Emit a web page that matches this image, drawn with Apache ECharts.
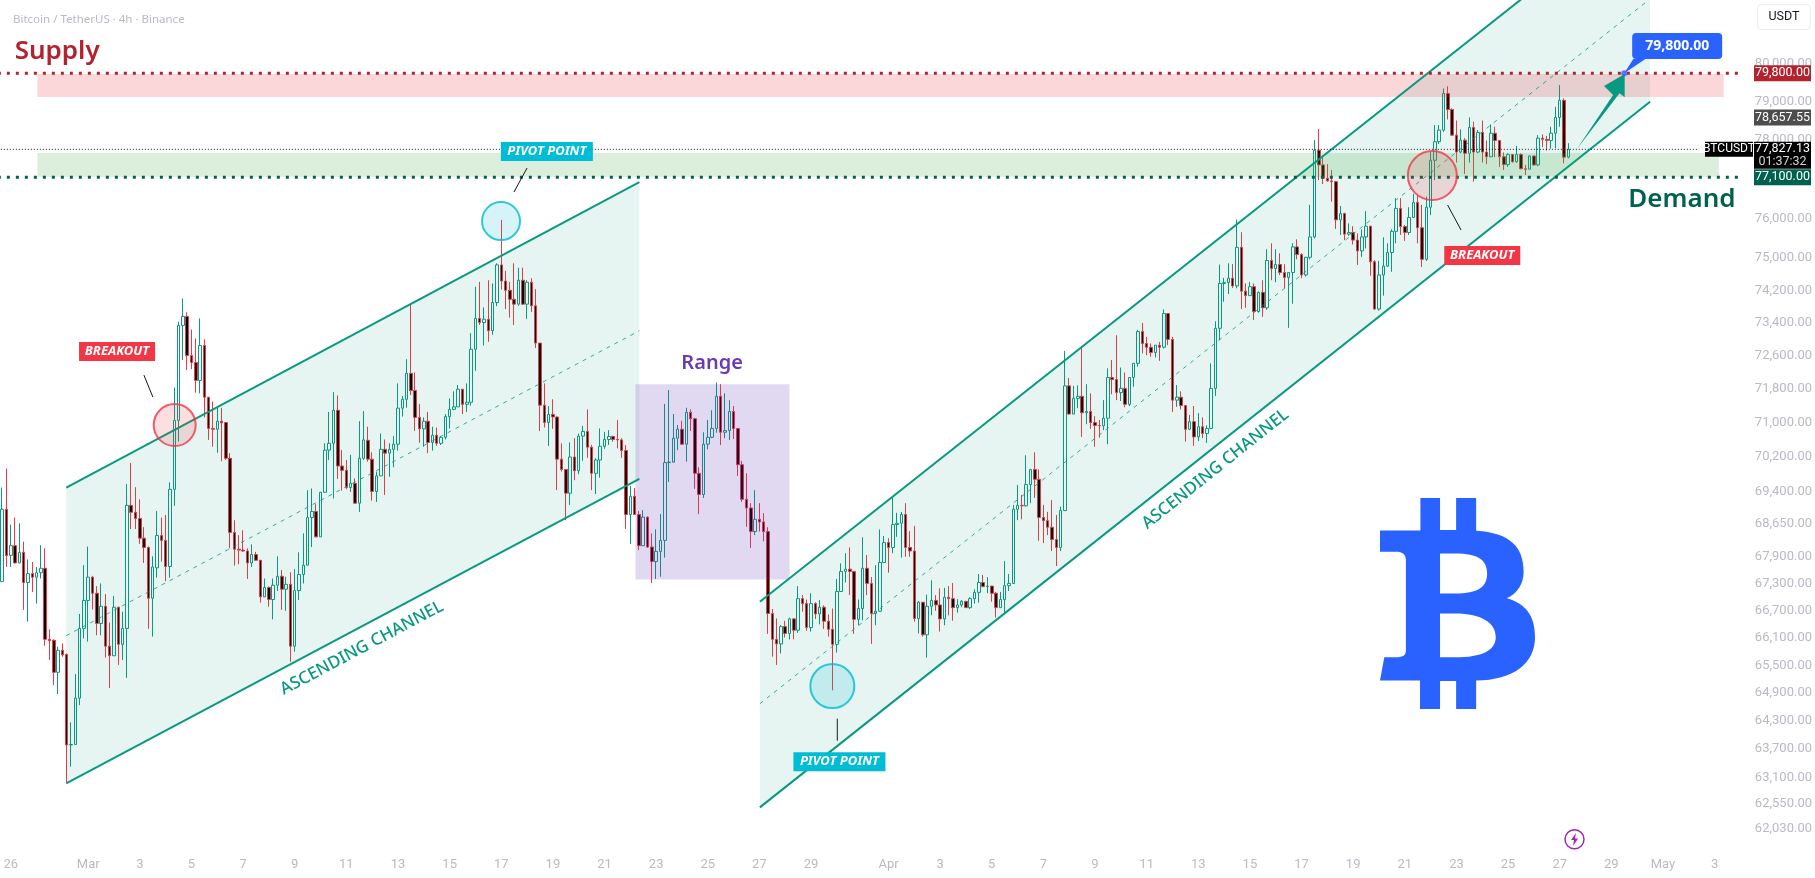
<!DOCTYPE html>
<html><head><meta charset="utf-8">
<style>html,body{margin:0;padding:0;background:#fff}#c{width:1815px;height:878px}</style>
<script src="https://cdn.jsdelivr.net/npm/echarts@6/dist/echarts.min.js"></script>
</head><body><div id="c"></div>
<script>
// candle index 0 = 1 March 00:00, one candle = 4h; first row is index -20
const firstCandle = -20;
const ohlc = [ // open, close, low, high
[67350,68990,67350,69490],[68990,67940,67680,69930],[67940,68160,67680,68640],[68160,67770,67760,68800],[67770,68010,67760,68670],
[68010,67330,66720,68250],[67330,67530,66460,67850],[67530,67450,67120,67790],[67450,67550,66860,67680],[67550,67650,67420,68170],
[67650,66070,65930,68100],[66070,66040,65620,66290],[66050,65350,65070,66070],[65350,65830,64880,65910],[65830,65730,65690,65980],
[65740,63790,62990,65760],[63790,63800,63330,64270],[63800,64790,63800,65310],[64790,66310,64640,66630],[66310,66930,66090,67720],
[66930,67450,66020,68140],[67450,67090,66730,67480],[67090,66420,66160,67250],[66420,66800,66160,67310],[66800,65920,65670,67070],
[65920,65710,65010,66440],[65710,66780,65710,67030],[66780,65960,65510,66790],[65960,66310,65620,66680],[66310,69080,65230,69570],
[69080,68920,68540,70060],[68920,68780,68540,69500],[68780,68330,68200,69220],[68330,68120,67770,68580],[68120,66980,66300,68140],
[66980,67680,66130,67920],[67660,68390,67440,68950],[68390,68280,67800,68800],[68280,67690,67360,68860],[67690,69450,67440,69610],
[69450,71060,69070,71840],[71060,73340,70560,73430],[73340,73560,72500,74000],[73560,72610,72260,73660],[72610,72440,72280,73240],
[72440,72010,71720,73020],[72010,72850,71700,73510],[72850,71610,71130,73000],[71610,70870,70600,71610],[70870,70850,70440,71510],
[70850,71040,70300,71370],[71040,71000,70100,71360],[71010,70170,70130,71020],[70170,68460,68100,70290],[68460,68080,67710,68740],
[68080,68060,67740,68400],[68060,68040,68020,68510],[68040,67770,67410,68100],[67770,67960,67680,68190],[67960,67830,67820,68020],
[67830,67010,66880,67830],[67010,67220,67010,67420],[67220,66950,66790,67240],[66950,67270,66510,67420],[67270,67470,67140,67920],
[67470,67180,66720,67610],[67180,67290,66700,67460],[67290,65920,65580,67560],[65920,67150,65800,67630],[67150,67510,66940,68010],
[67510,67720,67310,68440],[67720,68800,67720,69430],[68800,68940,68130,69470],[68940,68360,68350,69110],[68360,69380,68360,69390],
[69380,70360,69380,70520],[70360,70520,70130,71260],[70520,71300,69240,71730],[71300,69990,69690,71650],[69990,69890,69420,70360],
[69890,69490,69450,70130],[69490,69590,69390,70250],[69590,69130,69130,69700],[69130,70170,68930,71040],[70170,70600,70130,71280],
[70590,70150,70090,70910],[70150,69400,69190,70310],[69400,69760,69160,69860],[69760,70380,69760,70750],[70380,70290,69320,70610],
[70290,70380,69740,70520],[70380,70500,69960,70690],[70500,71350,70350,71940],[71350,71560,71150,71640],[71560,72180,71360,72520],
[72180,71770,71660,73840],[71770,71130,70810,72200],[71130,70860,70530,71450],[70860,71040,70440,71130],[71040,70540,70290,71260],
[70540,70710,70350,70910],[70710,70520,70460,70890],[70520,70660,70480,70690],[70660,71150,70610,71210],[71150,71320,70870,71580],
[71320,71380,71300,71750],[71380,71800,71380,71900],[71800,71440,71210,71800],[71440,71490,71260,71940],[71490,72760,71410,73150],
[72760,73510,72240,74290],[73510,73410,73350,74410],[73410,73490,72850,73780],[73490,73210,72940,74450],[73210,73900,73110,74370],
[73900,74830,73810,74870],[74830,74430,74220,75960],[74430,74200,73740,74680],[74200,73980,73530,74410],[73980,73860,73350,74870],
[73860,74450,73820,74760],[74450,73860,73840,74760],[73860,74400,73500,74450],[74400,73820,73670,74500],[73820,72910,72790,74230],
[72910,71420,70810,72910],[71420,71010,70890,71940],[71010,71200,70460,71400],[71200,71140,70860,71560],[71140,70150,69430,71150],
[70150,69910,69860,70520],[69910,69360,68740,69910],[69360,70200,69090,70540],[70200,69880,69660,70640],[69880,70690,69800,70750],
[70690,70800,70110,70930],[70800,70430,70180,71320],[70430,69820,69430,70480],[69820,70130,69340,70170],[70130,70450,69720,70870],
[70450,70610,70390,70790],[70610,70680,70480,70830],[70680,70610,70560,70700],[70610,70600,70400,71070],[70600,70350,70180,70640],
[70350,68870,68540,70480],[68870,69290,68200,69530],[69290,68870,68870,69480],[68870,68160,68060,68950],[68160,68810,68160,68970],
[68810,68130,68110,68830],[68130,67800,67320,68440],[67800,68030,67410,68530],[68030,68280,67460,68880],[68280,70070,67890,71450],
[70070,70080,69620,71780],[70080,70640,70070,71210],[70640,70850,70360,70950],[70850,70500,70480,71050],[70500,71250,70090,71360],
[71250,71100,70810,71320],[71100,69820,69460,71120],[69820,69330,68880,69960],[69330,70500,69250,70780],[70500,70660,70380,71070],
[70660,70870,70640,71300],[70870,71630,70770,71960],[71630,70780,70480,71920],[70780,70820,70640,71700],[70820,71270,70600,71540],
[71270,70870,70620,71400],[70870,70020,69760,70870],[70020,69220,69160,70110],[69220,69020,68590,69820],[69020,68480,68110,69130],
[68480,68760,68400,69430],[68760,68700,68480,69130],[68700,68480,68260,68900],[68480,66640,66190,68580],[66640,66070,65690,66740],
[66070,65970,65510,66530],[65970,66350,65760,66380],[66350,66200,66110,66480],[66200,66520,66070,66550],[66520,66270,66070,66540],
[66270,66970,66210,67250],[66970,66860,66680,67050],[66860,66330,66260,66950],[66330,66860,66240,67090],[66860,66630,66520,66890],
[66630,66780,66400,66940],[66780,66470,66300,66820],[66470,66290,66130,66620],[66290,65960,64960,66750],[65960,67130,65780,67410],
[67130,67580,67120,67760],[67580,67630,67330,67990],[67630,67580,67050,68120],[67580,66510,66190,67590],[66510,66750,66380,66950],
[66750,67650,66490,68350],[67650,67310,67050,67950],[67310,66640,65970,67450],[66640,66690,66380,67720],[66690,67780,66680,68530],
[67780,68230,67780,68380],[68230,68120,67550,68330],[68120,68640,67990,69290],[68640,68670,68360,68910],[68670,68870,67890,68930],
[68870,68120,67910,69130],[68120,68040,67910,68490],[68040,66530,66460,68610],[66530,66890,66200,66920],[66890,66170,66130,66890],
[66170,66800,65670,67060],[66800,66930,66600,67380],[66930,66830,66700,67050],[66830,66520,66240,67200],[66520,67000,66380,67210],
[67000,66970,66600,67250],[66970,66770,66480,67320],[66770,66830,66660,66960],[66830,66910,66780,66940],[66910,66770,66770,66910],
[66770,66970,66740,67000],[66970,67110,66860,67180],[67110,67330,66880,67520],[67330,67240,67220,67500],[67240,67250,67090,67450],
[67250,67090,66900,67260],[67090,66770,66550,67120],[66770,66950,66770,67120],[66950,67260,66660,67810],[67260,67310,67140,67520],
[67310,68990,67300,69090],[68990,69080,68740,69550],[69080,69070,68760,69320],[69070,69560,69050,70240],[69560,69910,69130,69910],
[69910,69680,69250,70310],[69680,68800,68270,69910],[68800,68730,68220,69090],[68730,68580,68400,68930],[68580,68300,68040,69200],
[68300,68120,67700,68860],[68120,68960,68040,69050],[68960,71880,68950,72720],[71880,71210,71190,72070],[71210,71580,71210,71880],
[71580,71630,71350,71890],[71630,71240,70670,72820],[71240,71270,70970,71920],[71270,71010,70860,71700],[71010,70940,70440,71160],
[70940,70930,70650,71070],[70930,71110,70830,71540],[71110,72080,70500,72300],[72080,72030,71680,72500],[72030,71720,71540,73100],
[71720,71820,71520,72320],[71820,71440,71370,72200],[71440,72080,71400,72080],[72080,72420,71860,72430],[72420,73190,72340,73230],
[73190,72900,72660,73400],[72900,72810,72620,73060],[72810,72680,72580,72900],[72680,72860,72560,72860],[72860,72810,72480,72940],
[72810,73630,72780,73730],[73630,73000,72860,73630],[73000,71540,71260,73060],[71540,71610,71380,71900],[71610,71410,71320,71750],
[71410,70850,70560,71410],[70850,71030,70830,71190],[71030,70670,70460,71400],[70670,70910,70570,71230],[70910,70750,70640,71130],
[70750,70870,70530,70940],[70870,71820,70850,72420],[71820,73270,71640,73440],[73270,74370,72980,74840],[74370,74390,73920,74510],
[74390,74500,74110,74870],[74500,74310,74260,74850],[74310,75270,74250,75970],[75270,74180,73740,75650],[74180,74070,73770,74370],
[74070,74290,74070,74410],[74290,73680,73470,74370],[73680,74150,73650,74170],[74150,73770,73550,74450],[73770,74940,73720,75220],
[74940,74740,74450,75370],[74740,74840,74400,75220],[74840,74640,74580,75120],[74640,74520,74250,74850],[74520,74640,73280,74640],
[74640,75280,73870,75370],[75280,75090,74970,75470],[75090,74580,74500,75120],[74580,75020,74540,75030],[75020,75530,74970,76340],
[75530,77740,75490,78000],[77740,77360,76970,78290],[77360,77020,76870,77560],[77020,76950,76930,77380],[76950,76930,76420,77230],
[76930,75960,75730,76950],[75960,76120,75580,76310],[76120,75600,75450,76140],[75600,75640,75560,75870],[75640,75450,75340,75800],
[75450,75180,74830,75620],[75180,75530,75030,75720],[75530,75800,75240,76180],[75800,74910,74560,75800],[74910,73740,73720,74950],
[73740,74580,73700,74930],[74580,74800,74070,75520],[74800,75140,74780,75370],[75140,75670,74660,75720],[75670,76250,75370,76510],
[76250,75790,75580,76510],[75790,75640,75430,75830],[75640,76020,75580,76280],[76020,76400,76010,76620],[76400,75760,75370,76590],
[75760,74970,74780,76340],[74970,76280,74930,76550],[76280,77480,76080,77700],[77480,77960,76970,78390],[77960,78260,77900,78390],
[78260,79220,78220,79350],[79220,78800,78540,79410],[78800,78130,78110,78830],[78130,77690,77420,78510],[77690,78000,77660,78280],
[78000,77660,77130,78050],[77660,78330,77420,78590],[78330,77690,76930,78480],[77690,78200,77660,78260],[78200,77690,77420,78510],
[77690,77570,77380,77990],[77570,78180,77560,78410],[78180,77990,77560,78350],[77990,77570,77310,78000],[77570,77370,77230,77680],
[77370,77630,77310,77660],[77630,77440,77420,77640],[77440,77630,77420,77850],[77630,77260,77250,77660],[77260,77250,77100,77360],
[77250,77590,77250,77600],[77590,77360,77340,77600],[77360,78050,77330,78130],[78050,78020,77820,78150],[78020,77990,77730,78110],
[77990,78180,77780,78350],[78180,78590,77790,78870],[78590,79040,78350,79440],[79040,77560,77400,79090],[77560,77760,77530,77920]
];
const lastAxisCandle = 385;
const xTickLabels = [[-18,'26'],[0,'Mar'],[12,'3'],[24,'5'],[36,'7'],[48,'9'],[60,'11'],[72,'13'],[84,'15'],[96,'17'],[108,'19'],[120,'21'],[132,'23'],[144,'25'],[156,'27'],[168,'29'],[186,'Apr'],[198,'3'],[210,'5'],[222,'7'],[234,'9'],[246,'11'],[258,'13'],[270,'15'],[282,'17'],[294,'19'],[306,'21'],[318,'23'],[330,'25'],[342,'27'],[354,'29'],[366,'May'],[378,'3']];
const yTicks = [80000,79000,78000,76000,75000,74200,73400,72600,71800,71000,70200,69400,68650,67900,67300,66700,66100,65500,64900,64300,63700,63100,62550,62030];
const priceMin = 61641, priceMax = 81721;

// drawn objects, as [candle index, price]
const channel1 = [[-5.1,62980],[-5.1,69490],[128.1,76920],[128.1,69690]];
const channel1Mid = [[-5.1,66150],[128.1,73210]];
const channel2 = [[156.1,62480],[156.1,66900],[363,84560],[363,79000]];
const channel2Mid = [[156.1,64670],[363,81750]];
const supplyZone = [-11.8,380.1,79735,79127];
const demandZone = [-11.8,379,77667,77057];
const rangeZone = [127.2,163,71920,67400];
const targetArrow = [[346,77770],[354.4,79181],[352.3,79417],[357.1,79735],[357.1,79119],[355.9,79225]];
const targetTail = [[357,79753],[359.1,80133],[361.9,80133]];
const supplyLine = [[-21,79753],[384.5,79753]];
const demandLine = [[-21,77042],[384.5,77042]];
const priceLine = [[-21,77762],[374.3,77762]];
const pointerLines = [[[12.95,72138],[15.03,71613]],[[102,77280],[98.96,76666]],[[174.1,64349],[174.1,63881]],[[315.95,76335],[319.07,75703]]];
const breakoutCircles = [[20.1,70950,42],[312.4,77088,49]];
const pivotCircles = [[95.95,75930,38],[172.95,65050,44]];
const targetDot = [[357,79753]];
const badges = [['BREAKOUT',6.7,72705,'breakout'],['PIVOT POINT',106.6,77705,'pivot'],['PIVOT POINT',174.6,63437,'pivot'],['BREAKOUT',324,75063,'breakout'],['79,800.00',369.3,80481,'target']];
const notes = [['Supply',-17.1,80320,'supply',0],['Demand',370.4,76462,'demand',0],['Range',145,72427,'range',0],['ASCENDING CHANNEL',63.6,65878,'channel',28],['ASCENDING CHANNEL',262,69918,'channel',38.5]];
const priceTags = [['79,800.00',79753,'#b2232f'],['78,657.55',78590,'#4d4d4d'],['77,100.00',77042,'#00614f']];
const lastPriceTag = ['77,827.13','01:37:32',77762,'BTCUSDT'];

const FONT = '"Noto Sans","Open Sans",sans-serif';
const AXFONT = '"Liberation Sans Narrow","Roboto",sans-serif';
const GREEN = '#089981', RED = '#f23645';
const badgeStyle = {
  breakout:{w:76,h:19,bg:RED,font:'italic bold 13px '+FONT,r:0},
  pivot:{w:92,h:19,bg:'#00bcd4',font:'italic bold 13px '+FONT,r:0},
  target:{w:90,h:26,bg:'#2962ff',font:'bold 14px '+FONT,r:4}
};
const noteStyle = {
  supply:{font:'600 26px '+FONT,fill:'#b2232f',align:'left'},
  demand:{font:'600 26px '+FONT,fill:'#00614f',align:'center'},
  range:{font:'600 20px '+FONT,fill:'#673ab7',align:'center'},
  channel:{font:'500 17px '+FONT,fill:GREEN,align:'center'}
};

const rectPts = r => [[r[0],r[2]],[r[1],r[2]],[r[1],r[3]],[r[0],r[3]]];
const polys = [
  [channel1,'rgba(8,153,129,0.1)'],[channel2,'rgba(8,153,129,0.1)'],
  [rectPts(supplyZone),'rgba(242,54,69,0.2)'],[rectPts(demandZone),'rgba(76,175,80,0.2)'],[rectPts(rangeZone),'rgba(103,58,183,0.2)'],
  [targetArrow,GREEN],[targetTail,'#2962ff']
];
const lines = [
  [channel1.slice(1,3),GREEN,2,null],[[channel1[0],channel1[3]],GREEN,2,null],
  [channel2.slice(1,3),GREEN,2,null],[[channel2[0],channel2[3]],GREEN,2,null],
  [channel1Mid,'rgba(8,153,129,0.8)',1,[4,5]],[channel2Mid,'rgba(8,153,129,0.8)',1,[4,5]],
  [supplyLine,'#b2232f',3,[3,6]],[demandLine,'#00614f',3,[3,6]],[priceLine,'#131722',1,[1,2]],
  ...pointerLines.map(p=>[p,'#131722',1,null])
];
const indexData = a => a.map((_,i)=>[i,70000]);
const idx = i => i - firstCandle;
const tickMap = new Map(xTickLabels.map(t=>[idx(t[0]),t[1]]));
const cats = []; for (let i=firstCandle;i<=lastAxisCandle;i++) cats.push(String(i));

const bitcoinPath = 'M562 174L612 174L612 270L653 270L653 174L704 174L704 272C790 278 825 320 825 395C825 430 810 460 782 474C830 490 854 525 854 590C854 670 800 718 704 721L704 806L653 806L653 722L612 722L612 806L561 806L561 721L459 721L470 651L500 651C518 651 525 645 525 630L525 360C525 342 515 335 500 335L459 335L459 271L562 271Z'
 +'M612 340L612 460L650 460C710 460 732 440 732 400C732 360 710 340 650 340Z'
 +'M612 520L612 651L650 651C720 651 754 630 754 590C754 550 720 520 650 520Z';

const chart = echarts.init(document.getElementById('c'),null,{renderer:'canvas'});
chart.setOption({
  animation:false, backgroundColor:'#ffffff',
  title:{text:'Bitcoin / TetherUS · 4h · Binance',left:8,top:9,textStyle:{fontFamily:FONT,fontWeight:'normal',fontSize:11.5,color:'#b8bac4'}},
  grid:{left:-2.66,top:0,width:1755.95,height:848,containLabel:false},
  xAxis:[
   {type:'category',data:cats,boundaryGap:true,axisLine:{show:false},axisTick:{show:false},splitLine:{show:false},
    axisLabel:{interval:i=>tickMap.has(i),formatter:(v,i)=>tickMap.get(i)||'',color:'#b8bac4',fontFamily:AXFONT,fontSize:13,margin:10,hideOverlap:false}},
   {type:'value',min:firstCandle-0.5,max:lastAxisCandle+0.5,show:false}
  ],
  yAxis:[{type:'log',logBase:10,min:priceMin,max:priceMax,position:'right',axisLine:{show:false},axisTick:{show:false},splitLine:{show:false},
    axisLabel:{customValues:yTicks,color:'#b8bac4',fontFamily:AXFONT,fontSize:13,margin:8,
      formatter:v=>Number(v).toLocaleString('en-US',{minimumFractionDigits:2,maximumFractionDigits:2})}}],
  series:[
   {type:'candlestick',xAxisIndex:0,yAxisIndex:0,data:ohlc,barWidth:3,z:1,
    itemStyle:{color:'#ffffff',color0:'#000000',borderColor:GREEN,borderColor0:RED,borderWidth:1}},
   {type:'custom',xAxisIndex:1,yAxisIndex:0,z:3,clip:true,data:indexData(polys),silent:true,
    renderItem:(p,api)=>{const e=polys[p.dataIndex];return {type:'polygon',shape:{points:e[0].map(c=>api.coord(c))},style:{fill:e[1]}};}},
   {type:'custom',xAxisIndex:1,yAxisIndex:0,z:4,clip:true,data:indexData(lines),silent:true,
    renderItem:(p,api)=>{const e=lines[p.dataIndex];return {type:'polyline',shape:{points:e[0].map(c=>api.coord(c))},style:{stroke:e[1],lineWidth:e[2],lineDash:e[3],fill:null}};}},
   {type:'scatter',xAxisIndex:1,yAxisIndex:0,z:5,symbol:'circle',symbolSize:v=>v[2],data:breakoutCircles,silent:true,
    itemStyle:{color:'rgba(242,54,69,0.2)',borderColor:RED,borderWidth:2}},
   {type:'scatter',xAxisIndex:1,yAxisIndex:0,z:5,symbol:'circle',symbolSize:v=>v[2],data:pivotCircles,silent:true,
    itemStyle:{color:'rgba(0,188,212,0.2)',borderColor:'#00bcd4',borderWidth:2}},
   {type:'scatter',xAxisIndex:1,yAxisIndex:0,z:6,symbolSize:6,data:targetDot,silent:true,itemStyle:{color:'#2962ff'}},
   {type:'custom',xAxisIndex:1,yAxisIndex:0,z:7,clip:false,data:indexData(badges),silent:true,
    renderItem:(p,api)=>{const e=badges[p.dataIndex],s=badgeStyle[e[3]],c=api.coord([e[1],e[2]]);
      return {type:'group',x:c[0],y:c[1],children:[
        {type:'rect',shape:{x:-s.w/2,y:-s.h/2,width:s.w,height:s.h,r:s.r},style:{fill:s.bg}},
        {type:'text',style:{text:e[0],x:0,y:0,align:'center',verticalAlign:'middle',font:s.font,fill:'#fff'}}]};}},
   {type:'custom',xAxisIndex:1,yAxisIndex:0,z:7,clip:false,data:indexData(notes),silent:true,
    renderItem:(p,api)=>{const e=notes[p.dataIndex],s=noteStyle[e[3]],c=api.coord([e[1],e[2]]);
      return {type:'text',x:c[0],y:c[1],rotation:e[4]*Math.PI/180,style:{text:e[0],x:0,y:0,align:s.align,verticalAlign:'middle',font:s.font,fill:s.fill}};}},
   {type:'custom',xAxisIndex:1,yAxisIndex:0,z:9,clip:false,data:indexData(priceTags),silent:true,
    renderItem:(p,api)=>{const e=priceTags[p.dataIndex],y=api.coord([0,e[1]])[1];
      return {type:'group',x:1754,y:y,children:[
       {type:'rect',shape:{x:0,y:-8,width:57,height:16},style:{fill:e[2]}},
       {type:'text',style:{text:e[0],x:28.5,y:0,align:'center',verticalAlign:'middle',font:'12.5px '+AXFONT,fill:'#fff'}}]};}},
   {type:'custom',xAxisIndex:1,yAxisIndex:0,z:9,clip:false,data:[[0,70000]],silent:true,
    renderItem:(p,api)=>{const e=lastPriceTag,y=api.coord([0,e[2]])[1];
      return {type:'group',x:1754,y:y,children:[
       {type:'rect',shape:{x:0,y:-7.5,width:57,height:27},style:{fill:'#000'}},
       {type:'text',style:{text:e[0],x:28.5,y:0,align:'center',verticalAlign:'middle',font:'12.5px '+AXFONT,fill:'#fff'}},
       {type:'text',style:{text:e[1],x:28.5,y:13,align:'center',verticalAlign:'middle',font:'12.5px '+AXFONT,fill:'#d1d4dc'}},
       {type:'rect',shape:{x:-49,y:-7.5,width:48,height:15},style:{fill:'#000'}},
       {type:'text',style:{text:e[3],x:-25,y:0,align:'center',verticalAlign:'middle',font:'12px '+AXFONT,fill:'#fff'}}]};}},
   {type:'custom',xAxisIndex:1,yAxisIndex:0,z:2,clip:false,data:[[0,70000]],silent:true,
    renderItem:()=>({type:'group',children:[
      {type:'path',shape:{pathData:bitcoinPath,x:1380,y:498,width:155,height:211,layout:'cover'},style:{fill:'#2962ff'}},
      {type:'circle',shape:{cx:1574.5,cy:839.3,r:9.5},style:{fill:'#fff',stroke:'#9c27b0',lineWidth:1.5}},
      {type:'polygon',shape:{points:[[1576,833],[1571,840],[1574,840],[1573,846],[1578,838.5],[1575,838.5]]},style:{fill:'#9c27b0'}}
    ]})}
  ],
  graphic:[
   {type:'rect',shape:{x:1757.5,y:4.5,width:53,height:25,r:4},style:{fill:'#fff',stroke:'#ededed',lineWidth:1}},
   {type:'text',x:1784,y:17,style:{text:'USDT',align:'center',verticalAlign:'middle',font:'12.5px '+AXFONT,fill:'#131722'}}
  ]
});
</script></body></html>
